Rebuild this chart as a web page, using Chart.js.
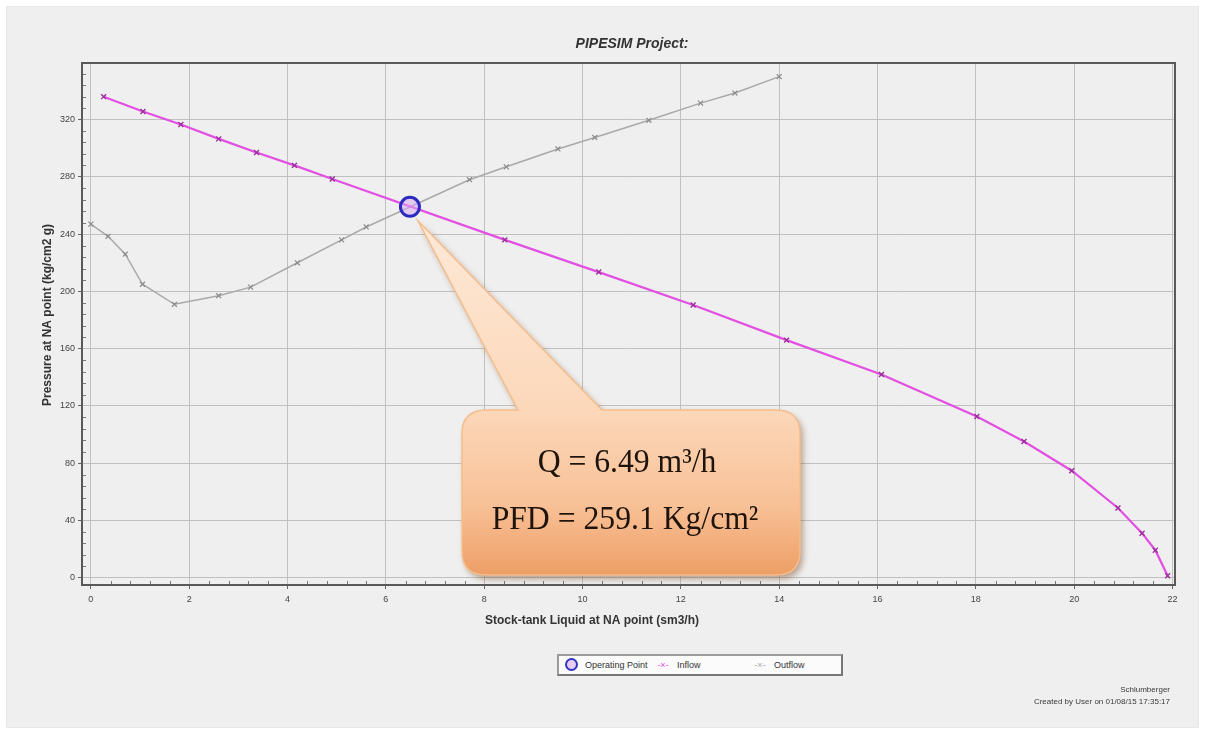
<!DOCTYPE html>
<html>
<head>
<meta charset="utf-8">
<title>PIPESIM Project</title>
<script src="https://cdn.jsdelivr.net/npm/chart.js@4.4.1/dist/chart.umd.min.js"></script>
<style>
  html, body { margin: 0; padding: 0; background: #fff; }
  body { width: 1205px; height: 736px; position: relative; overflow: hidden; font-family: "Liberation Sans", Arial, sans-serif; }
  #panel { position: absolute; left: 6px; top: 6px; width: 1193px; height: 722px; background: #efefef; box-shadow: inset 0 0 0 1px #e7e7e7; }
  #chart { position: absolute; left: 0; top: 0; }
  #legend { position: absolute; left: 557px; top: 654px; width: 282px; height: 18px; background: #fbfbfb;
            border: 2px solid #777; border-top-color: #9a9a9a; border-left-color: #9a9a9a; font-size: 9px; color: #333; }
  #legend .item { position: absolute; top: 0; height: 18px; line-height: 18px; white-space: nowrap; }
  #legend .ring { display: inline-block; width: 9px; height: 9px; border: 2px solid #3434c4; border-radius: 50%;
                  background: rgba(215,175,240,0.6); vertical-align: middle; margin-right: 7px; margin-top: -2px; }
  #legend .mark { display: inline-block; width: 16px; text-align: center; margin-right: 6px; font-size: 9px; }
  #footer { position: absolute; right: 35px; top: 684px; text-align: right; font-size: 8px; line-height: 12px; color: #3a3a3a; }
</style>
</head>
<body>
<div id="panel"></div>
<canvas id="chart" width="1205" height="736"></canvas>
<div id="legend"></div>
<div id="footer">Schlumberger<br>Created by User on 01/08/15 17:35:17</div>
<script>
// Axis ticks
const xTicks = [0, 2, 4, 6, 8, 10, 12, 14, 16, 18, 20, 22];
const yTicks = [0, 40, 80, 120, 160, 200, 240, 280, 320];

// Operating point (intersection of inflow and outflow curves)
const opQ = [6.49];
const opP = [259.1];

// Inflow curve (IPR)
const inflowQ = [0.26, 1.06, 1.83, 2.6, 3.37, 4.14, 4.91, 8.42, 10.33, 12.25, 14.15, 16.08, 18.02, 18.98, 19.95, 20.89, 21.38, 21.65, 21.9];
const inflowP = [336, 325.6, 316.5, 306.5, 297, 288, 278.5, 236, 213.5, 190.5, 166, 142, 112.7, 95.2, 74.8, 48.8, 31.2, 19.3, 1.5];

// Outflow curve (tubing performance)
const outflowQ = [0, 0.35, 0.7, 1.05, 1.7, 2.6, 3.25, 4.2, 5.1, 5.6, 7.7, 8.45, 9.5, 10.25, 11.35, 12.4, 13.1, 14.0];
const outflowP = [247, 238.5, 226, 205, 191, 197, 203, 220, 236, 245, 278, 287, 299.5, 307.5, 319.5, 331.5, 338.5, 350];

const seriesNames = ["Operating Point", "Inflow", "Outflow"];

const pts = (xs, ys) => xs.map((x, i) => ({ x: x, y: ys[i] }));

// Titles drawn around the plot box
const titles = {
  id: "titles",
  afterDraw(chart) {
    const ctx = chart.ctx;
    ctx.save();
    ctx.fillStyle = "#333";
    ctx.textAlign = "center";
    ctx.textBaseline = "middle";
    ctx.font = "italic bold 14px 'Liberation Sans', Arial, sans-serif";
    ctx.fillText("PIPESIM Project:", 632, 44);
    ctx.font = "bold 12px 'Liberation Sans', Arial, sans-serif";
    ctx.fillText("Stock-tank Liquid at NA point (sm3/h)", 592, 621);
    ctx.translate(48, 315);
    ctx.rotate(-Math.PI / 2);
    ctx.fillText("Pressure at NA point (kg/cm2 g)", 0, 0);
    ctx.restore();
  }
};

// Plot frame plus small minor ticks inside the left and bottom axes
const frame = {
  id: "frame",
  beforeDatasetsDraw(chart) {
    const { ctx, chartArea: a, scales } = chart;
    ctx.save();
    ctx.strokeStyle = "#777";
    ctx.lineWidth = 1;
    ctx.beginPath();
    for (let v = 0; v <= 352; v += 8) {
      if (v % 40 === 0) continue;
      const y = Math.round(scales.y.getPixelForValue(v)) + 0.5;
      ctx.moveTo(a.left, y); ctx.lineTo(a.left + 4, y);
    }
    for (let i = 0; i <= 110; i += 2) {
      if (i % 10 === 0) continue;
      const x = Math.round(scales.x.getPixelForValue(i * 0.2)) + 0.5;
      ctx.moveTo(x, a.bottom); ctx.lineTo(x, a.bottom - 4);
    }
    ctx.stroke();
    ctx.restore();
  },
  afterDraw(chart) {
    const { ctx, chartArea: a } = chart;
    ctx.save();
    ctx.strokeStyle = "#595959";
    ctx.lineWidth = 2;
    ctx.strokeRect(a.left, a.top, a.right - a.left, a.bottom - a.top);
    ctx.restore();
  }
};

// Rounded callout pointing at the operating point
const callout = {
  id: "callout",
  afterDatasetsDraw(chart) {
    const { ctx, scales } = chart;
    const px = scales.x.getPixelForValue(opQ[0]);
    const py = scales.y.getPixelForValue(opP[0]);
    const tipX = px + 8, tipY = py + 14;
    const L = 462, T = 410, R = 800, B = 575, r = 24;
    const baseL = 518, baseR = 602;
    ctx.save();
    ctx.beginPath();
    ctx.moveTo(L + r, T);
    ctx.lineTo(baseL, T);
    ctx.lineTo(tipX, tipY);
    ctx.lineTo(baseR, T);
    ctx.lineTo(R - r, T);
    ctx.quadraticCurveTo(R, T, R, T + r);
    ctx.lineTo(R, B - r);
    ctx.quadraticCurveTo(R, B, R - r, B);
    ctx.lineTo(L + r, B);
    ctx.quadraticCurveTo(L, B, L, B - r);
    ctx.lineTo(L, T + r);
    ctx.quadraticCurveTo(L, T, L + r, T);
    ctx.closePath();
    const g = ctx.createLinearGradient(0, tipY, 0, B);
    g.addColorStop(0, "#fee9d8");
    g.addColorStop(0.53, "#fcd8ba");
    g.addColorStop(0.8, "#f8c197");
    g.addColorStop(1, "#ee9e66");
    ctx.shadowColor = "rgba(110,60,20,0.45)";
    ctx.shadowBlur = 6;
    ctx.shadowOffsetX = 3;
    ctx.shadowOffsetY = 4;
    ctx.fillStyle = g;
    ctx.fill();
    ctx.shadowColor = "transparent";
    ctx.strokeStyle = "#f5bd8c";
    ctx.lineWidth = 1.5;
    ctx.stroke();

    // callout text, slightly condensed serif
    ctx.fillStyle = "#1e140c";
    ctx.textAlign = "center";
    ctx.textBaseline = "alphabetic";
    ctx.font = "33px 'Liberation Serif', 'Times New Roman', serif";
    const lines = [
      ["Q = " + opQ[0].toFixed(2) + " m³/h", 627, 472],
      ["PFD = " + opP[0].toFixed(1) + " Kg/cm²", 625, 529]
    ];
    lines.forEach(([text, x, y]) => {
      ctx.save();
      ctx.translate(x, y);
      ctx.scale(0.96, 1);
      ctx.fillText(text, 0, 0);
      ctx.restore();
    });
    ctx.restore();
  }
};

const chart = new Chart(document.getElementById("chart"), {
  type: "scatter",
  data: {
    datasets: [
      {
        label: seriesNames[0],
        data: pts(opQ, opP),
        showLine: false,
        pointStyle: "circle",
        pointRadius: 9.5,
        pointBorderWidth: 3,
        pointBorderColor: "#2a2ac0",
        pointBackgroundColor: "rgba(215,170,240,0.55)"
      },
      {
        label: seriesNames[1],
        data: pts(inflowQ, inflowP),
        showLine: true,
        borderColor: "#e24fe2",
        borderWidth: 2.2,
        pointStyle: "crossRot",
        pointRadius: 3.5,
        pointBorderColor: "#9a2f9a",
        pointBorderWidth: 1.4,
        tension: 0
      },
      {
        label: seriesNames[2],
        data: pts(outflowQ, outflowP),
        showLine: true,
        borderColor: "#a9a9a9",
        borderWidth: 1.5,
        pointStyle: "crossRot",
        pointRadius: 3.5,
        pointBorderColor: "#8a8a8a",
        pointBorderWidth: 1.2,
        tension: 0
      }
    ]
  },
  options: {
    responsive: false,
    animation: false,
    devicePixelRatio: 1,
    layout: { padding: { left: 12, top: 63, right: 30, bottom: 121 } },
    scales: {
      x: {
        type: "linear",
        min: -0.18,
        max: 22.05,
        afterBuildTicks: s => { s.ticks = xTicks.map(v => ({ value: v })); },
        afterFit: s => { s.height = 30; },
        grid: { color: "#c0c0c0", lineWidth: 1, tickLength: 4, tickColor: "#666" },
        border: { display: false },
        ticks: { color: "#444", font: { size: 9 }, padding: 5, maxRotation: 0, autoSkip: false }
      },
      y: {
        type: "linear",
        min: -5,
        max: 359.5,
        afterBuildTicks: s => { s.ticks = yTicks.map(v => ({ value: v })); },
        afterFit: s => { s.width = 70; },
        grid: { color: "#c0c0c0", lineWidth: 1, tickLength: 4, tickColor: "#666" },
        border: { display: false },
        ticks: { color: "#444", font: { size: 9 }, padding: 3, autoSkip: false }
      }
    },
    plugins: {
      legend: { display: false },
      tooltip: { enabled: false }
    }
  },
  plugins: [frame, callout, titles]
});

// Boxed legend under the plot
const legendSpots = [6, 96, 193];
const legend = document.getElementById("legend");
chart.data.datasets.forEach((ds, i) => {
  const item = document.createElement("span");
  item.className = "item";
  item.style.left = legendSpots[i] + "px";
  const sym = document.createElement("span");
  if (i === 0) {
    sym.className = "ring";
  } else {
    sym.className = "mark";
    sym.style.color = ds.borderColor;
    sym.textContent = "-×-";
  }
  item.appendChild(sym);
  item.appendChild(document.createTextNode(ds.label));
  legend.appendChild(item);
});
</script>
</body>
</html>
